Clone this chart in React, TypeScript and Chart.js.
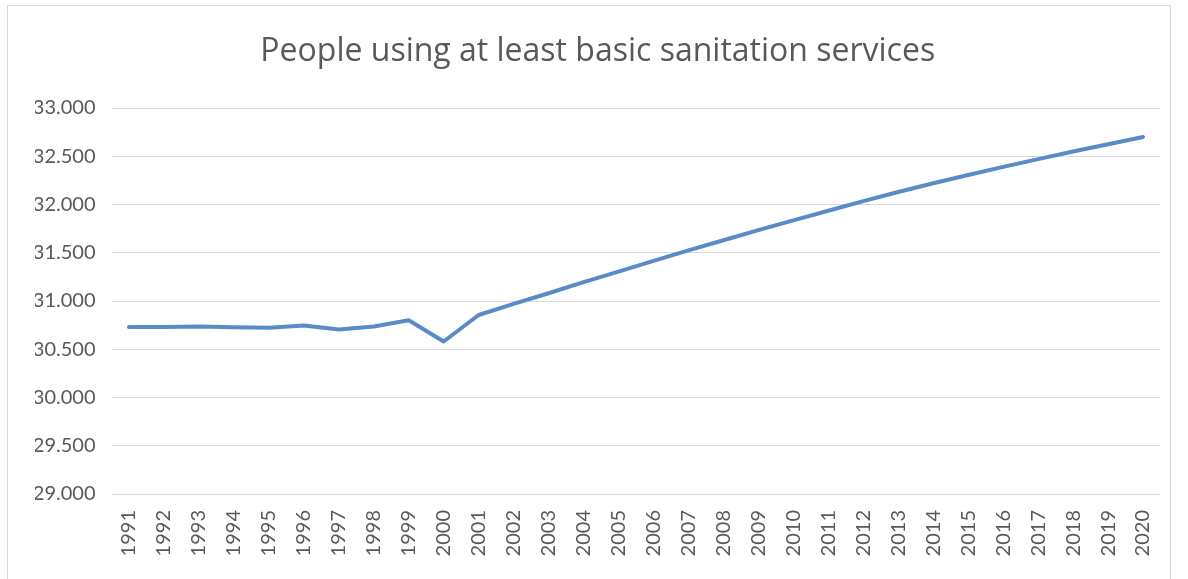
import React, { useEffect, useRef } from "react";
import { Chart, registerables } from "chart.js";

Chart.register(...registerables);

const chartTitle = "People using at least basic sanitation services";

const years: string[] = [
  "1991", "1992", "1993", "1994", "1995", "1996", "1997", "1998", "1999", "2000",
  "2001", "2002", "2003", "2004", "2005", "2006", "2007", "2008", "2009", "2010",
  "2011", "2012", "2013", "2014", "2015", "2016", "2017", "2018", "2019", "2020",
];

const sanitationValues: number[] = [
  30730, 30730, 30735, 30728, 30722, 30745, 30705, 30735, 30800, 30580,
  30855, 30970, 31080, 31195, 31305, 31415, 31525, 31630, 31735, 31835,
  31935, 32035, 32130, 32220, 32305, 32390, 32470, 32550, 32625, 32700,
];

const yMin = 29000;
const yMax = 33000;
const yStep = 500;

const lineColor = "#5A8BC6";
const gridColor = "#D9D9D9";
const textColor = "#595959";
const tickFont = "Lato, 'Open Sans', 'DejaVu Sans', sans-serif";
const titleFont = "'Open Sans', Lato, 'DejaVu Sans', sans-serif";

// "33000" -> "33.000"
function formatThousands(v: number): string {
  const s = Math.round(v).toString();
  return s.replace(/\B(?=(\d{3})+(?!\d))/g, ".");
}

export default function App() {
  const canvasRef = useRef<HTMLCanvasElement | null>(null);

  useEffect(() => {
    const canvas = canvasRef.current;
    if (!canvas) return;
    const chart = new Chart(canvas, {
      type: "line",
      data: {
        labels: years,
        datasets: [
          {
            label: chartTitle,
            data: sanitationValues,
            borderColor: lineColor,
            backgroundColor: lineColor,
            borderWidth: 4,
            borderCapStyle: "round",
            borderJoinStyle: "round",
            pointRadius: 0,
            pointHoverRadius: 0,
            tension: 0,
            fill: false,
          },
        ],
      },
      options: {
        responsive: false,
        animation: false,
        events: [],
        layout: {
          padding: { top: 0, left: 35, right: 27.5, bottom: 0 },
        },
        plugins: {
          legend: { display: false },
          tooltip: { enabled: false },
          title: {
            display: true,
            text: chartTitle,
            color: textColor,
            font: { family: titleFont, size: 32, weight: "normal", lineHeight: 1.2 },
            padding: { top: 32.2, bottom: 37.4 },
          },
        },
        scales: {
          x: {
            type: "category",
            offset: true,
            border: { display: false },
            grid: { display: false, drawTicks: false },
            ticks: {
              color: textColor,
              font: { family: tickFont, size: 20 },
              minRotation: 90,
              maxRotation: 90,
              autoSkip: false,
              padding: 16,
            },
            afterFit: (scale: any) => {
              scale.height = 85;
            },
          },
          y: {
            min: yMin,
            max: yMax,
            border: { display: false },
            grid: { color: gridColor, lineWidth: 1, drawTicks: false },
            ticks: {
              stepSize: yStep,
              color: textColor,
              font: { family: tickFont, size: 20 },
              padding: 16,
              callback: (value: any) => formatThousands(Number(value)),
            },
            afterFit: (scale: any) => {
              scale.width = 76.5;
            },
          },
        },
      },
    });
    return () => chart.destroy();
  }, []);

  return (
    <div
      style={{
        position: "absolute",
        left: 0,
        top: 0,
        width: 1188,
        height: 579,
        overflow: "hidden",
        background: "#ffffff",
      }}
    >
      <div
        style={{
          position: "absolute",
          left: 7,
          top: 5,
          width: 1164,
          height: 600,
          boxSizing: "border-box",
          border: `1px solid ${gridColor}`,
          borderBottom: "none",
        }}
      />
      <canvas
        ref={canvasRef}
        width={1188}
        height={579}
        style={{ position: "absolute", left: 0, top: 0, display: "block" }}
      />
    </div>
  );
}
